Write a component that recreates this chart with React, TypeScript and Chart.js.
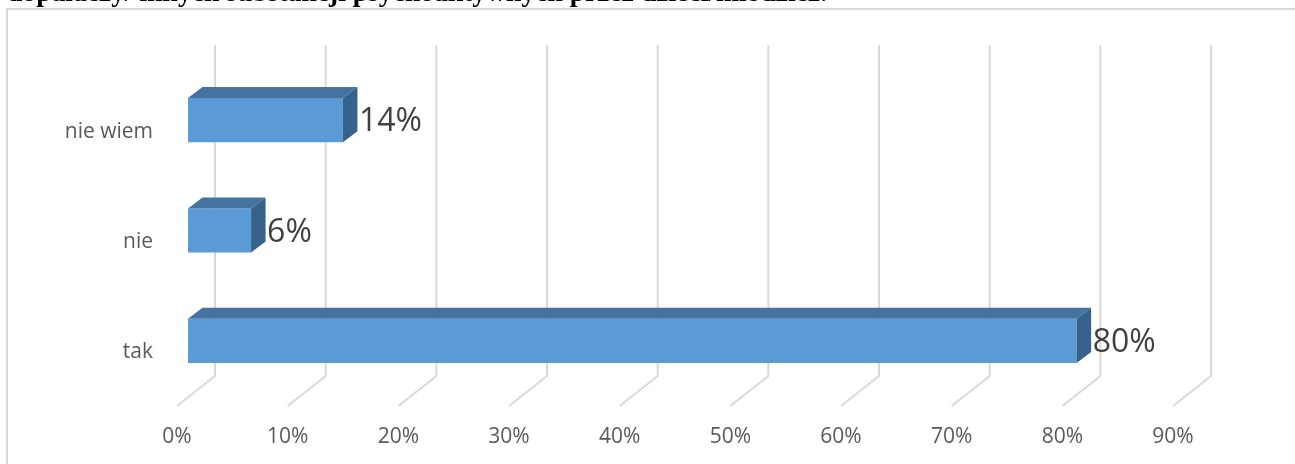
import React, { useEffect, useRef } from "react";
import { Chart, registerables } from "chart.js";

Chart.register(...registerables);

const categories = ["nie wiem", "nie", "tak"];
const values = [14.0, 5.7, 80.3];
const tickValues = [0, 10, 20, 30, 40, 50, 60, 70, 80, 90];
const tickLabels = ["0%", "10%", "20%", "30%", "40%", "50%", "60%", "70%", "80%", "90%"];
const valueLabels = ["14%", "6%", "80%"];
const titleText = "dopalaczy/ innych substancji psychoaktywnych przez dzieci/młodzież.";

const W = 1295;
const H = 464;

const threeD = {
  id: "threeD",
  beforeDraw(chart: any) {
    const ctx = chart.ctx;
    ctx.save();
    ctx.fillStyle = "#ffffff";
    ctx.fillRect(0, 0, chart.width, chart.height);
    ctx.strokeStyle = "#d9d9d9";
    ctx.lineWidth = 2;
    ctx.strokeRect(7, 9, chart.width + 20, chart.height + 20);
    ctx.restore();
  },
  beforeDatasetsDraw(chart: any) {
    const ctx = chart.ctx;
    const xs = chart.scales.x;
    const ca = chart.chartArea;
    ctx.save();
    ctx.strokeStyle = "#d9d9d9";
    ctx.lineWidth = 2;
    const topY = ca.top - 20;
    const bottomY = ca.bottom - 20;
    const floorY = ca.bottom + 10;
    tickValues.forEach((v, i) => {
      const f = xs.getPixelForValue(v);
      const back = f + 27;
      ctx.beginPath();
      ctx.moveTo(back, topY);
      ctx.lineTo(back, bottomY);
      ctx.lineTo(back - 38, floorY);
      ctx.stroke();
      ctx.fillStyle = "#595959";
      ctx.font = '21px "Open Sans"';
      ctx.textAlign = "center";
      ctx.textBaseline = "middle";
      ctx.fillText(tickLabels[i], back - 38, ca.bottom + 41);
    });
    const ys = chart.scales.y;
    ctx.fillStyle = "#595959";
    ctx.font = '21px "Open Sans"';
    ctx.textAlign = "right";
    ctx.textBaseline = "middle";
    categories.forEach((c, i) => {
      ctx.fillText(c, ca.left - 35, ys.getPixelForValue(i) + 11.5);
    });
    ctx.restore();
  },
  afterDatasetsDraw(chart: any) {
    const ctx = chart.ctx;
    const meta = chart.getDatasetMeta(0);
    const dx = 14.5;
    const dy = -11;
    ctx.save();
    meta.data.forEach((bar: any, i: number) => {
      const p = bar.getProps(["x", "y", "base", "height"], true);
      const top = p.y - p.height / 2;
      const bot = p.y + p.height / 2;
      ctx.fillStyle = "#44739f";
      ctx.beginPath();
      ctx.moveTo(p.base, top);
      ctx.lineTo(p.base + dx, top + dy);
      ctx.lineTo(p.x + dx, top + dy);
      ctx.lineTo(p.x, top);
      ctx.closePath();
      ctx.fill();
      ctx.fillStyle = "#37628b";
      ctx.beginPath();
      ctx.moveTo(p.x, top);
      ctx.lineTo(p.x + dx, top + dy);
      ctx.lineTo(p.x + dx, bot + dy);
      ctx.lineTo(p.x, bot);
      ctx.closePath();
      ctx.fill();
      ctx.fillStyle = "#404040";
      ctx.font = '32px "Open Sans"';
      ctx.textAlign = "left";
      ctx.textBaseline = "middle";
      ctx.fillText(valueLabels[i], p.x + 16, p.y + 2);
    });
    ctx.restore();
  },
};

export default function App() {
  const ref = useRef<HTMLCanvasElement>(null);
  useEffect(() => {
    if (!ref.current) return;
    const chart = new Chart(ref.current, {
      type: "bar",
      data: {
        labels: categories,
        datasets: [
          {
            data: values,
            backgroundColor: "#5b9bd5",
            borderWidth: 0,
            barPercentage: 0.4,
            categoryPercentage: 1,
          },
        ],
      },
      options: {
        indexAxis: "y",
        responsive: false,
        animation: false,
        devicePixelRatio: 1,
        layout: { padding: { left: 188, right: W - 1184, top: 65, bottom: H - 396 } },
        scales: {
          x: { type: "linear", min: 0, max: 90, display: false },
          y: { type: "category", display: false },
        },
        plugins: { legend: { display: false }, tooltip: { enabled: false }, title: { display: false } },
      },
      plugins: [threeD],
    });
    return () => chart.destroy();
  }, []);
  return (
    <div style={{ position: "fixed", left: 0, top: 0, width: W, height: H, overflow: "hidden", background: "#fff" }}>
      <canvas ref={ref} width={W} height={H} style={{ position: "absolute", left: 0, top: 0, width: W, height: H }} />
      <div
        style={{
          position: "absolute",
          left: 7,
          top: -23,
          font: 'bold 27.6px "Liberation Serif"',
          lineHeight: "30px",
          whiteSpace: "nowrap",
          color: "#000",
        }}
      >
        {titleText}
      </div>
    </div>
  );
}
